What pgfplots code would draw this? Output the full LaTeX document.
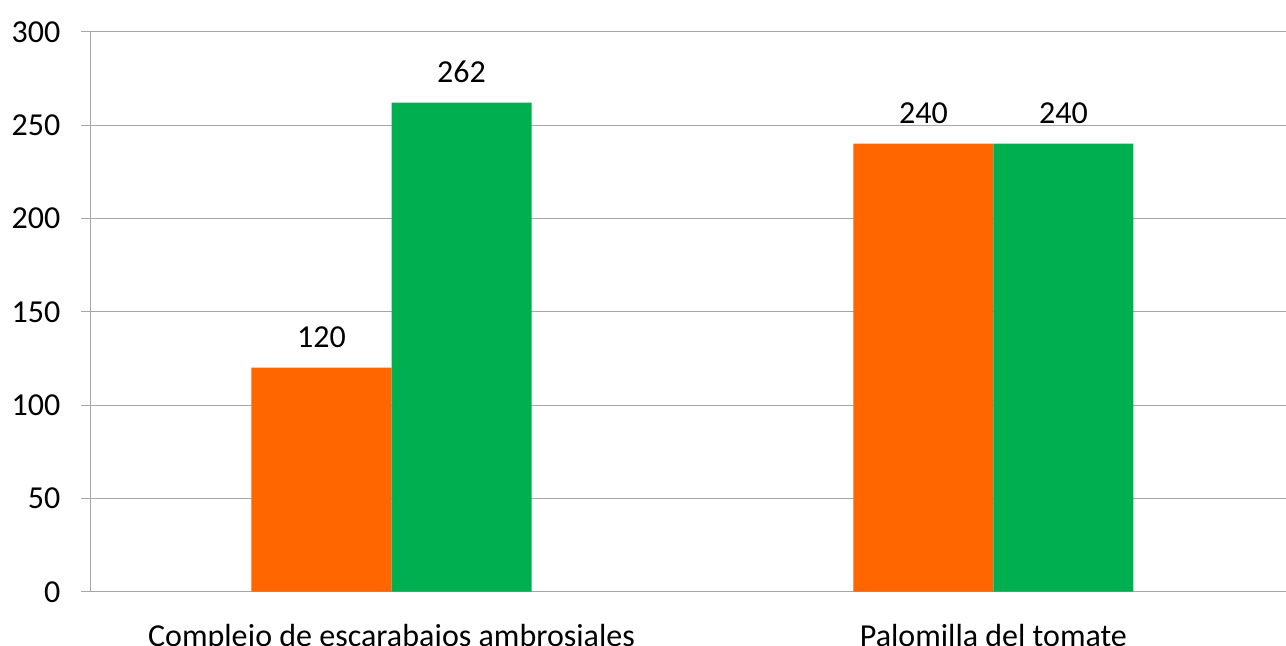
\documentclass[border=0pt]{standalone}
\usepackage{pgfplots}
\pgfplotsset{compat=1.18}
\usepackage{fontspec}
\setmainfont{Carlito}
\definecolor{barorange}{HTML}{FF6600}
\definecolor{bargreen}{HTML}{00B050}
\definecolor{gridgray}{HTML}{A6A6A6}
\newcommand{\chartfont}{\fontsize{24pt}{29pt}\selectfont}

\begin{document}
\begin{tikzpicture}
\begin{axis}[
  at={(0pt,0pt)}, anchor=south west,
  scale only axis,
  width=896.6pt, height=420pt,
  xmin=-0.5, xmax=1.486,
  ymin=0, ymax=300,
  ytick={0,50,...,300},
  xtick={0,1},
  xticklabels={Complejo de escarabajos ambrosiales, Palomilla del tomate},
  axis lines*=left,
  axis line style={gridgray, line width=0.75pt},
  ymajorgrids,
  grid style={gridgray, line width=0.75pt},
  tick align=outside,
  major tick length=7pt,
  xtick style={draw=none},
  ytick style={gridgray, line width=0.75pt},
  extra x ticks={-0.5,0.5},
  extra x tick labels={},
  extra x tick style={xtick style={gridgray, line width=0.75pt}, grid=none},
  /pgf/number format/assume math mode=true,
  tick label style={font=\chartfont, text=black},
  xticklabel style={anchor=base, yshift=-34pt},
  yticklabel style={anchor=east, inner sep=0pt, xshift=-15.4pt},
  ybar=0pt,
  bar width=0.2326,
  nodes near coords,
  every node near coord/.append style={font=\chartfont, text=black, anchor=base, inner sep=0pt, yshift=15pt},
]
\addplot[fill=barorange, draw=none, bar shift=-0.1163] coordinates {(0,120) (1,240)};
\addplot[fill=bargreen, draw=none, bar shift=0.1163] coordinates {(0,262) (1,240)};
\end{axis}
\pgfresetboundingbox
\path[use as bounding box] (-67.9pt,-40.7pt) rectangle (896.6pt,443.8pt);
\end{tikzpicture}
\end{document}
